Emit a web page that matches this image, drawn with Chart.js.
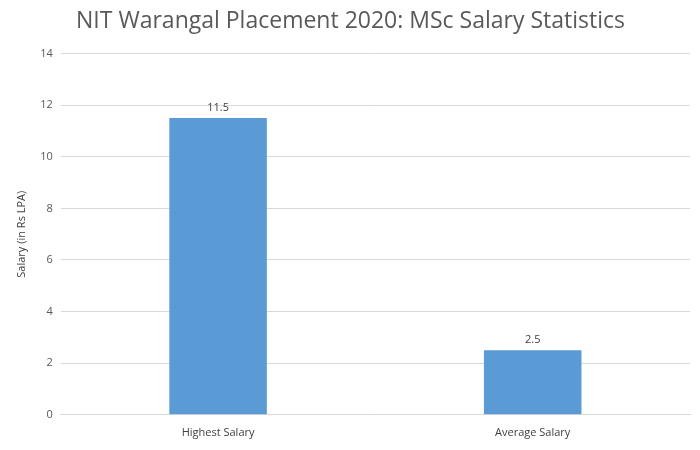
<!DOCTYPE html>
<html>
<head>
<meta charset="utf-8">
<script src="https://cdn.jsdelivr.net/npm/chart.js@4"></script>
<style>
  body { margin: 0; background: #fff; }
  #wrap { width: 700px; height: 450px; }
</style>
</head>
<body>
<div id="wrap"><canvas id="salaryChart"></canvas></div>
<script>
const categories = ["Highest Salary", "Average Salary"];
const salaryValues = [11.5, 2.5];

// prints the value just above each bar
const barLabels = {
    id: "barLabels",
    afterDatasetsDraw(chart) {
        const ctx = chart.ctx;
        ctx.save();
        ctx.fillStyle = "#404040";
        ctx.font = "11px 'Open Sans'";
        ctx.textAlign = "center";
        ctx.textBaseline = "bottom";
        chart.getDatasetMeta(0).data.forEach((bar, i) => {
            ctx.fillText(salaryValues[i], bar.x, bar.y - 5);
        });
        ctx.restore();
    }
};

const salaryChart = new Chart(document.getElementById("salaryChart").getContext("2d"), {
    type: "bar",
    data: {
        labels: categories,
        datasets: [{
            label: "Salary",
            data: salaryValues,
            backgroundColor: "#5B9BD5",
            barPercentage: 0.31,
            categoryPercentage: 1
        }]
    },
    options: {
        responsive: true,
        maintainAspectRatio: false,
        animation: false,
        layout: { padding: { left: 11, right: 10, top: 4, bottom: 8 } },
        plugins: {
            legend: { display: false },
            tooltip: { enabled: false },
            title: {
                display: true,
                text: "NIT Warangal Placement 2020: MSc Salary Statistics",
                color: "#595959",
                font: { family: "'Open Sans'", size: 23, weight: "normal" },
                padding: { top: 4, bottom: 18 }
            }
        },
        scales: {
            x: {
                grid: { display: false },
                border: { color: "#d9d9d9" },
                ticks: { color: "#404040", font: { family: "'Open Sans'", size: 11 } }
            },
            y: {
                min: 0,
                max: 14,
                ticks: { stepSize: 2, color: "#595959", padding: 8, font: { family: "'Open Sans'", size: 11 } },
                grid: { color: "#d9d9d9", drawTicks: false },
                border: { display: false },
                title: {
                    display: true,
                    text: "Salary (in Rs LPA)",
                    color: "#404040",
                    font: { family: "'Open Sans'", size: 11 }
                }
            }
        }
    },
    plugins: [barLabels]
});
</script>
</body>
</html>
